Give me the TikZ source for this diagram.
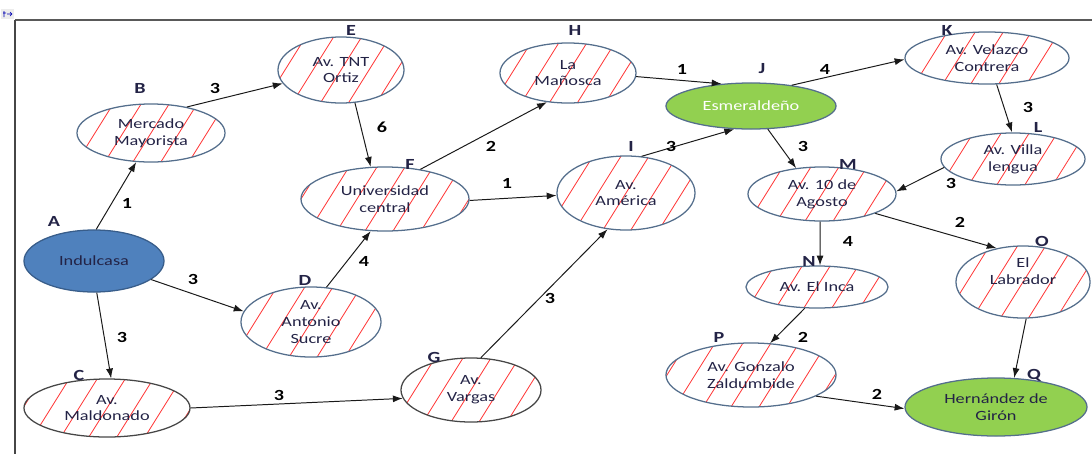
\documentclass[tikz,border=0pt]{standalone}
\usepackage{fontspec}
\setmainfont{Carlito}[FakeStretch=1.3]
\usepackage{tikz}
\usetikzlibrary{shapes.geometric, arrows.meta}
\definecolor{bordegris}{RGB}{84, 110, 140}
\definecolor{bordeosc}{RGB}{70, 70, 70}
\definecolor{rayado}{RGB}{255, 60, 60}
\definecolor{azulinicio}{RGB}{79, 129, 189}
\definecolor{azulborde}{RGB}{56, 93, 138}
\definecolor{verdefin}{RGB}{146, 208, 80}
\definecolor{tinta}{RGB}{35, 35, 70}
\definecolor{trazo}{RGB}{25, 25, 25}

\tikzset{
    rayas/.style={path picture={
        \foreach \k in {-5,...,5}
            \draw[rayado, line width=0.6pt]
                ([xshift=\k*0.7cm]path picture bounding box.center) ++(-30,48) -- ++(60,-96);
    }},
    calle/.style={ellipse, draw=bordegris, line width=0.9pt, inner sep=0pt, align=center,
                  text=tinta, font=\fontsize{10}{12}\selectfont, rayas},
    lleno/.style={ellipse, line width=0.9pt, inner sep=0pt, align=center,
                  font=\fontsize{10}{12}\selectfont},
    letra/.style={font=\fontsize{11}{13}\selectfont\bfseries, text=tinta, inner sep=0pt},
    peso/.style={font=\fontsize{11}{13}\selectfont\bfseries, text=black, inner sep=0pt},
    ruta/.style={draw=trazo, line width=0.7pt, -{Latex[length=7pt, width=5pt]}}
}

\begin{document}
\begin{tikzpicture}[x=0.025cm, y=-0.025cm]
    \useasboundingbox (0,0) rectangle (1092,454);

    % marco de la hoja
    \draw[gray!70!black, line width=1pt] (15,20) -- (1092,20);
    \draw[bordeosc, line width=1pt] (15,20) -- (15,454);
    \fill[gray!15] (1,9) rectangle (14,19);
    \draw[blue!70!black, line width=0.5pt] (4,11) -- (4,17) (3,13) -- (6,13) (7,14) -- (12,14) (10,12) -- (12,14) -- (10,16);

    % nodos de inicio y fin
    \node[lleno, fill=azulinicio, draw=azulborde, text=tinta, minimum width=3.5cm, minimum height=1.55cm] (A) at (94,261) {Indulcasa};
    \node[lleno, fill=verdefin, draw=bordegris, text=white, minimum width=4.25cm, minimum height=1.15cm] (J) at (751,106) {Esmeraldeño};
    \node[lleno, fill=verdefin, draw=bordegris, text=tinta, minimum width=4.55cm, minimum height=1.45cm] (Q) at (996,407) {Hernández de\\Girón};

    % calles intermedias
    \node[calle, minimum width=3.7cm, minimum height=1.45cm] (B) at (151,133) {Mercado\\Mayorista};
    \node[calle, draw=bordeosc, minimum width=4.15cm, minimum height=1.45cm] (C) at (107,408) {Av.\\Maldonado};
    \node[calle, minimum width=3.5cm, minimum height=1.75cm] (D) at (311,322) {Av.\\Antonio\\Sucre};
    \node[calle, minimum width=3.15cm, minimum height=1.65cm] (E) at (341,70) {Av. TNT\\Ortiz};
    \node[calle, minimum width=4.2cm, minimum height=1.6cm] (F) at (385,199) {Universidad\\central};
    \node[calle, draw=bordeosc, minimum width=3.5cm, minimum height=1.6cm] (G) at (471,390) {Av.\\Vargas};
    \node[calle, minimum width=3.4cm, minimum height=1.5cm] (H) at (568,73) {La\\Mañosca};
    \node[calle, minimum width=3.45cm, minimum height=1.85cm] (I) at (626,193) {Av.\\América};
    \node[calle, minimum width=4.1cm, minimum height=1.3cm] (K) at (987,58) {Av. Velazco\\Contrera};
    \node[calle, minimum width=3.6cm, minimum height=1.3cm] (L) at (1013,159) {Av. Villa\\lengua};
    \node[calle, minimum width=3.7cm, minimum height=1.35cm] (M) at (822,194) {Av. 10 de\\Agosto};
    \node[calle, minimum width=3.55cm, minimum height=1.05cm] (N) at (817,287) {Av. El Inca};
    \node[calle, minimum width=3.35cm, minimum height=1.8cm] (O) at (1023,282) {El\\Labrador\\[4pt]};
    \node[calle, minimum width=4.25cm, minimum height=1.6cm] (P) at (751,375) {Av. Gonzalo\\Zaldumbide};

    % letras de los nodos
    \node[letra] (lA) at (54,221) {A};
    \node[letra] (lB) at (140,88) {B};
    \node[letra] (lC) at (79,375) {C};
    \node[letra] (lD) at (305,280) {D};
    \node[letra] (lE) at (351,30) {E};
    \node[letra] (lF) at (410,164) {F};
    \node[letra] (lG) at (434,357) {G};
    \node[letra] (lH) at (575,30) {H};
    \node[letra] (lI) at (631,146) {I};
    \node[letra] (lJ) at (762,69) {J};
    \node[letra] (lK) at (947,30) {K};
    \node[letra] (lL) at (1038,127) {L};
    \node[letra] (lM) at (848,164) {M};
    \node[letra] (lN) at (809,261) {N};
    \node[letra] (lO) at (1042,241) {O};
    \node[letra] (lP) at (719,337) {P};
    \node[letra] (lQ) at (1034,375) {Q};

    % rutas
    \draw[ruta] (A.86) -- (B.243);
    \draw[ruta] (B.36) -- (E.193);
    \draw[ruta] (A.275) -- (C.82);
    \draw[ruta] (A.342) -- (D.171);
    \draw[ruta] (E.293) -- (F.114);
    \draw[ruta] (D.66) -- (F.246);
    \draw[ruta] (F.40) -- (H.234);
    \draw[ruta] (F.359) -- (I.182);
    \draw[ruta] (C.0) -- (G.187);
    \draw[ruta] (G.73) -- (I.243);
    \draw[ruta] (H.357) -- (J.143);
    \draw[ruta] (I.67) -- (J.234);
    \draw[ruta] (J.27) -- (K.181);
    \draw[ruta] (J.306) -- (M.135);
    \draw[ruta] (K.290) -- (L.92);
    \draw[ruta] (L.187) -- (M.2);
    \draw[ruta] (M.266) -- (N.82);
    \draw[ruta] (M.340) -- (O.128);
    \draw[ruta] (N.240) -- (P.59);
    \draw[ruta] (O.275) -- (Q.58);
    \draw[ruta] (P.342) -- (Q.181);

    % pesos de las rutas
    \node[peso] (wAB) at (127,203) {1};
    \node[peso] (wBE) at (215,88) {3};
    \node[peso] (wAC) at (122,337) {3};
    \node[peso] (wAD) at (193,279) {3};
    \node[peso] (wEF) at (382,127) {6};
    \node[peso] (wDF) at (364,261) {4};
    \node[peso] (wFH) at (491,146) {2};
    \node[peso] (wFI) at (507,183) {1};
    \node[peso] (wCG) at (279,395) {3};
    \node[peso] (wGI) at (550,298) {3};
    \node[peso] (wHJ) at (682,69) {1};
    \node[peso] (wIJ) at (671,146) {3};
    \node[peso] (wJK) at (825,69) {4};
    \node[peso] (wJM) at (803,146) {3};
    \node[peso] (wKL) at (1028,107) {3};
    \node[peso] (wLM) at (951,183) {3};
    \node[peso] (wMN) at (848,241) {4};
    \node[peso] (wMO) at (960,222) {2};
    \node[peso] (wNP) at (803,337) {2};
    \node[peso] (wPQ) at (877,394) {2};
\end{tikzpicture}
\end{document}
